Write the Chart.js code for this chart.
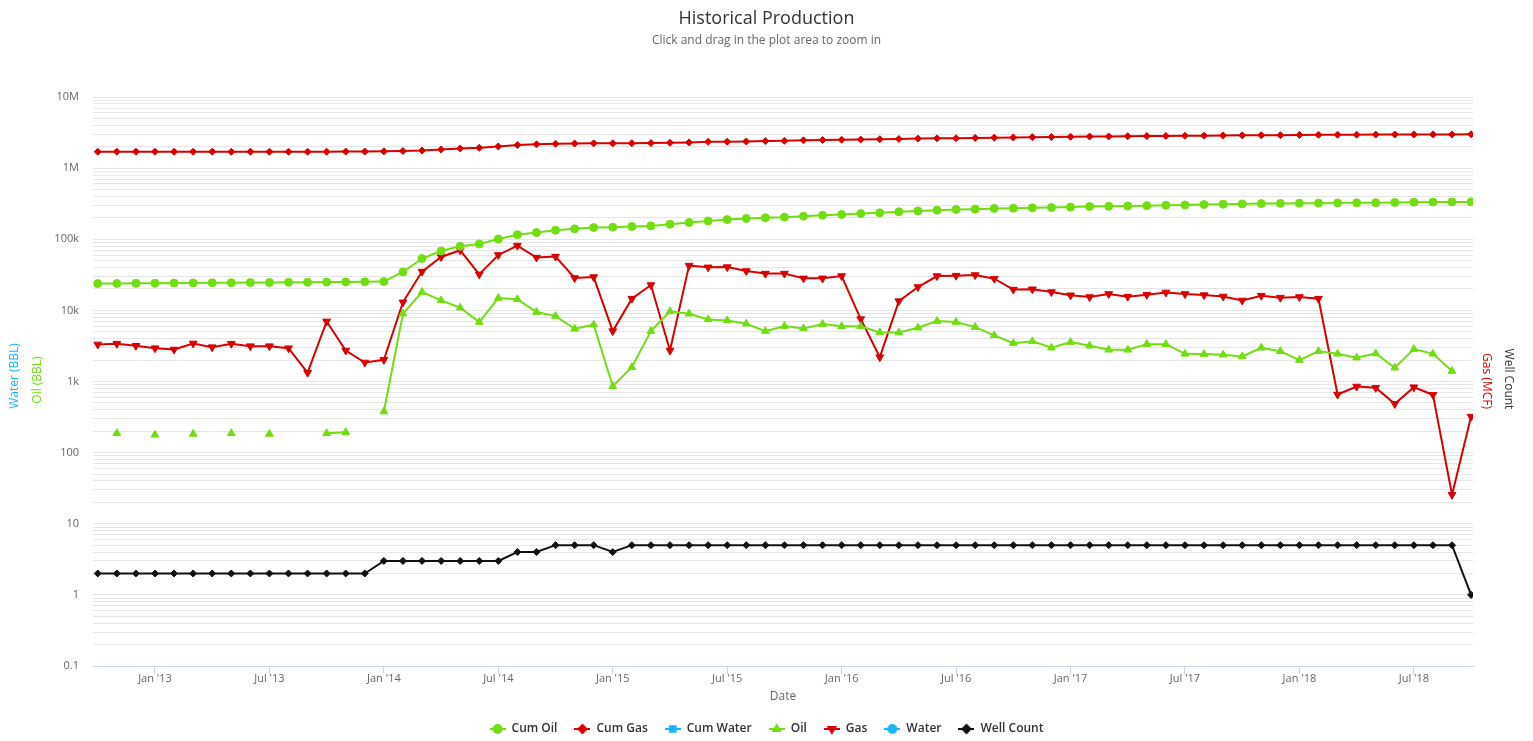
<!DOCTYPE html>
<html>
<head>
<meta charset="utf-8">
<title>Historical Production</title>
<script src="https://cdn.jsdelivr.net/npm/chart.js@4.4.0/dist/chart.umd.min.js"></script>
<style>
  body { margin: 0; background: #fff; }
  #wrap { width: 1533px; height: 741px; }
</style>
</head>
<body>
<div id="wrap"><canvas id="prodChart"></canvas></div>
<script>
// monthly categories, Oct 2012 -> Oct 2018
const months = [
  "2012-10", "2012-11", "2012-12",
  "2013-01", "2013-02", "2013-03", "2013-04", "2013-05", "2013-06", "2013-07", "2013-08", "2013-09", "2013-10", "2013-11", "2013-12",
  "2014-01", "2014-02", "2014-03", "2014-04", "2014-05", "2014-06", "2014-07", "2014-08", "2014-09", "2014-10", "2014-11", "2014-12",
  "2015-01", "2015-02", "2015-03", "2015-04", "2015-05", "2015-06", "2015-07", "2015-08", "2015-09", "2015-10", "2015-11", "2015-12",
  "2016-01", "2016-02", "2016-03", "2016-04", "2016-05", "2016-06", "2016-07", "2016-08", "2016-09", "2016-10", "2016-11", "2016-12",
  "2017-01", "2017-02", "2017-03", "2017-04", "2017-05", "2017-06", "2017-07", "2017-08", "2017-09", "2017-10", "2017-11", "2017-12",
  "2018-01", "2018-02", "2018-03", "2018-04", "2018-05", "2018-06", "2018-07", "2018-08", "2018-09", "2018-10"
];

const cumOil = [
  23800, 23900, 24000,
  24100, 24200, 24300, 24400, 24500, 24600, 24700, 24800, 24900, 25000, 25100, 25200,
  25400, 34700, 53500, 68400, 79600, 85900, 101000, 116000, 124000, 134000, 140000, 146000,
  148000, 151000, 154000, 163000, 172000, 181000, 189000, 196000, 200000, 204000, 211000, 218000,
  223000, 230000, 235000, 243000, 250000, 256000, 262000, 265000, 271000, 273000, 277000, 279000,
  283000, 288000, 291000, 294000, 297000, 301000, 304000, 308000, 311000, 314000, 317000, 319000,
  321000, 322000, 324000, 325000, 327000, 329000, 332000, 333000, 335000, 335000
];

const cumGas = [
  1700000, 1700000, 1700000,
  1700000, 1700000, 1700000, 1700000, 1700000, 1700000, 1700000, 1700000, 1700000, 1700000, 1710000, 1710000,
  1720000, 1740000, 1770000, 1830000, 1890000, 1930000, 2020000, 2110000, 2160000, 2200000, 2220000, 2230000,
  2230000, 2240000, 2250000, 2270000, 2300000, 2340000, 2350000, 2370000, 2400000, 2420000, 2460000, 2480000,
  2510000, 2520000, 2550000, 2570000, 2600000, 2620000, 2630000, 2660000, 2680000, 2700000, 2720000, 2740000,
  2760000, 2780000, 2790000, 2810000, 2820000, 2840000, 2850000, 2860000, 2880000, 2890000, 2900000, 2910000,
  2930000, 2940000, 2950000, 2950000, 2960000, 2970000, 2970000, 2980000, 2980000, 2990000
];

const cumWater = months.map(() => null);
const water = months.map(() => null);

const oil = [
  null, 187, null,
  178, null, 183, null, 187, null, 183, null, null, 187, 193, null,
  378, 8980, 18100, 13800, 10900, 6840, 14900, 14300, 9460, 8310, 5520, 6290,
  859, 1590, 5110, 9680, 8980, 7470, 7230, 6490, 5110, 6010, 5570, 6410,
  5960, 5960, 4900, 4880, 5700, 7070, 6840, 5820, 4450, 3460, 3670, 2980,
  3580, 3180, 2790, 2790, 3350, 3350, 2450, 2430, 2380, 2250, 2980, 2670,
  2000, 2670, 2450, 2160, 2480, 1560, 2850, 2450, 1400, null
];

const gas = [
  3320, 3400, 3180,
  2940, 2820, 3430, 3040, 3400, 3140, 3140, 2940, 1330, 7000, 2730, 1850,
  2020, 13000, 35100, 56400, 70000, 32100, 60100, 81500, 55200, 57000, 28500, 29400,
  5110, 14600, 22700, 2730, 42600, 40300, 40600, 35800, 32900, 32900, 28200, 28200,
  30400, 7550, 2200, 13500, 21300, 30400, 30800, 31400, 27900, 19600, 19800, 18100,
  16300, 15400, 17000, 15600, 16600, 17900, 17000, 16400, 15700, 13800, 16100, 15100,
  15400, 14600, 656, 851, 815, 485, 831, 650, 25.6, 321
];

const wellCount = [
  2, 2, 2,
  2, 2, 2, 2, 2, 2, 2, 2, 2, 2, 2, 2,
  3, 3, 3, 3, 3, 3, 3, 4, 4, 5, 5, 5,
  4, 5, 5, 5, 5, 5, 5, 5, 5, 5, 5, 5,
  5, 5, 5, 5, 5, 5, 5, 5, 5, 5, 5, 5,
  5, 5, 5, 5, 5, 5, 5, 5, 5, 5, 5, 5,
  5, 5, 5, 5, 5, 5, 5, 5, 5, 1
];

// x tick labels (every six months)
const xTickMonths = ["2013-01", "2013-07", "2014-01", "2014-07", "2015-01", "2015-07", "2016-01", "2016-07", "2017-01", "2017-07", "2018-01", "2018-07"];
const xTickLabels = ["Jan '13", "Jul '13", "Jan '14", "Jul '14", "Jan '15", "Jul '15", "Jan '16", "Jul '16", "Jan '17", "Jul '17", "Jan '18", "Jul '18"];

// y major ticks
const yMajor = [0.1, 1, 10, 100, 1000, 10000, 100000, 1000000, 10000000];
const yMajorLabels = ["0.1", "1", "10", "100", "1k", "10k", "100k", "1M", "10M"];

const GREEN = "#72de12";
const RED = "#d90000";
const CYAN = "#1cb4f5";
const BLACK = "#111111";
const FONT = "'Open Sans', 'DejaVu Sans', sans-serif";

// month string -> index, Jan 2013 = 0
const toIdx = s => (parseInt(s.slice(0, 4)) - 2013) * 12 + parseInt(s.slice(5, 7)) - 1;
const pts = arr => months.map((m, i) => ({ x: toIdx(m), y: arr[i] }));

function series(label, arr, color, style, opts) {
  return Object.assign({
    label: label,
    data: pts(arr),
    borderColor: color,
    backgroundColor: color,
    borderWidth: 2,
    pointStyle: style,
    pointRadius: 4,
    pointBorderWidth: 1,
    pointBackgroundColor: color,
    pointBorderColor: color,
    tension: 0,
    spanGaps: false
  }, opts || {});
}

const datasets = [
  series("Cum Oil", cumOil, GREEN, "circle", { pointRadius: 4 }),
  series("Cum Gas", cumGas, RED, "rectRot", { pointRadius: 3.5 }),
  series("Cum Water", cumWater, CYAN, "rect", {}),
  series("Oil", oil, GREEN, "triangle", { pointRadius: 4.5 }),
  series("Gas", gas, RED, "triangle", { pointRadius: 4.5, pointRotation: 180 }),
  series("Water", water, CYAN, "circle", {}),
  series("Well Count", wellCount, BLACK, "rectRot", { pointRadius: 3.5 })
];

// legend icons: short line with the marker in the middle
function legendIcon(ds) {
  const c = document.createElement("canvas");
  c.width = 16; c.height = 12;
  const g = c.getContext("2d");
  g.strokeStyle = ds.borderColor;
  g.lineWidth = 2;
  g.beginPath(); g.moveTo(0, 6); g.lineTo(16, 6); g.stroke();
  g.fillStyle = ds.borderColor;
  Chart.helpers.drawPoint(g, {
    pointStyle: ds.pointStyle,
    rotation: ds.pointRotation || 0,
    radius: 4,
    borderWidth: 1
  }, 8, 6);
  return c;
}
const icons = datasets.map(legendIcon);

// axis titles drawn beside the plot
const axisTitles = {
  id: "axisTitles",
  afterDraw(chart) {
    const { ctx, chartArea } = chart;
    const items = [
      { text: "Water (BBL)", color: CYAN, x: chartArea.left - 78, y: 376, rot: -Math.PI / 2 },
      { text: "Oil (BBL)", color: GREEN, x: chartArea.left - 55, y: 380, rot: -Math.PI / 2 },
      { text: "Gas (MCF)", color: RED, x: chartArea.right + 13, y: 381, rot: Math.PI / 2 },
      { text: "Well Count", color: "#333333", x: chartArea.right + 35, y: 379, rot: Math.PI / 2 },
      { text: "Date", color: "#666666", x: (chartArea.left + chartArea.right) / 2, y: 697, rot: 0 }
    ];
    ctx.save();
    ctx.font = "12px " + FONT;
    ctx.textAlign = "center";
    ctx.textBaseline = "middle";
    for (const t of items) {
      ctx.save();
      ctx.translate(t.x, t.y);
      ctx.rotate(t.rot);
      ctx.fillStyle = t.color;
      ctx.fillText(t.text, 0, 0);
      ctx.restore();
    }
    ctx.restore();
  }
};

const ctx = document.querySelector("#prodChart").getContext("2d");

new Chart(ctx, {
  type: "line",
  data: { datasets: datasets },
  plugins: [axisTitles],
  options: {
    responsive: true,
    maintainAspectRatio: false,
    animation: false,
    events: [],
    layout: { padding: { left: 0, right: 0, top: 0, bottom: -4 } },
    plugins: {
      title: {
        display: true,
        text: "Historical Production",
        color: "#333333",
        font: { family: FONT, size: 18, weight: "normal" },
        padding: { top: 8, bottom: 1 }
      },
      subtitle: {
        display: true,
        text: "Click and drag in the plot area to zoom in",
        color: "#666666",
        font: { family: FONT, size: 12 },
        padding: { top: 3, bottom: 49 }
      },
      legend: {
        position: "bottom",
        labels: {
          usePointStyle: true,
          pointStyleWidth: 16,
          padding: 17,
          color: "#333333",
          font: { family: FONT, size: 12, weight: "600" },
          generateLabels(chart) {
            const items = Chart.defaults.plugins.legend.labels.generateLabels(chart);
            items.forEach((it, i) => { it.pointStyle = icons[i]; it.rotation = 0; });
            return items;
          }
        }
      },
      tooltip: { enabled: false }
    },
    scales: {
      x: {
        type: "linear",
        min: -3.25,
        max: 69.1,
        afterBuildTicks(scale) {
          scale.ticks = xTickMonths.map(m => ({ value: toIdx(m) }));
        },
        afterFit(scale) { scale.height = 40; },
        ticks: {
          autoSkip: false,
          maxRotation: 0,
          padding: -2,
          color: "#666666",
          font: { family: FONT, size: 11 },
          callback(value) {
            const i = xTickMonths.findIndex(m => toIdx(m) === value);
            return i >= 0 ? xTickLabels[i] : "";
          }
        },
        grid: {
          drawOnChartArea: false,
          drawTicks: true,
          tickLength: 8,
          color: "#ccd6eb"
        },
        border: { display: true, color: "#ccd6eb" }
      },
      y: {
        type: "logarithmic",
        min: 0.1,
        max: 10000000,
        afterBuildTicks(scale) {
          const t = [];
          for (let e = -1; e < 7; e++) {
            for (let k = 1; k < 10; k++) {
              t.push({ value: Number((k * Math.pow(10, e)).toPrecision(6)), major: k === 1 });
            }
          }
          t.push({ value: 10000000, major: true });
          scale.ticks = t;
        },
        afterFit(scale) { scale.width = 93; },
        ticks: {
          autoSkip: false,
          padding: 14,
          color: "#666666",
          font: { family: FONT, size: 11 },
          callback(value) {
            const i = yMajor.findIndex(v => Math.abs(v - value) < v * 1e-6);
            return i >= 0 ? yMajorLabels[i] : "";
          }
        },
        grid: { color: "#e6e6e6", lineWidth: 1, drawTicks: false },
        border: { display: false }
      },
      // empty right-hand space for the Gas / Well Count titles
      yRight: {
        type: "linear",
        position: "right",
        display: true,
        afterFit(scale) { scale.width = 60; },
        ticks: { display: false },
        grid: { display: false },
        border: { display: false }
      }
    }
  }
});
</script>
</body>
</html>
